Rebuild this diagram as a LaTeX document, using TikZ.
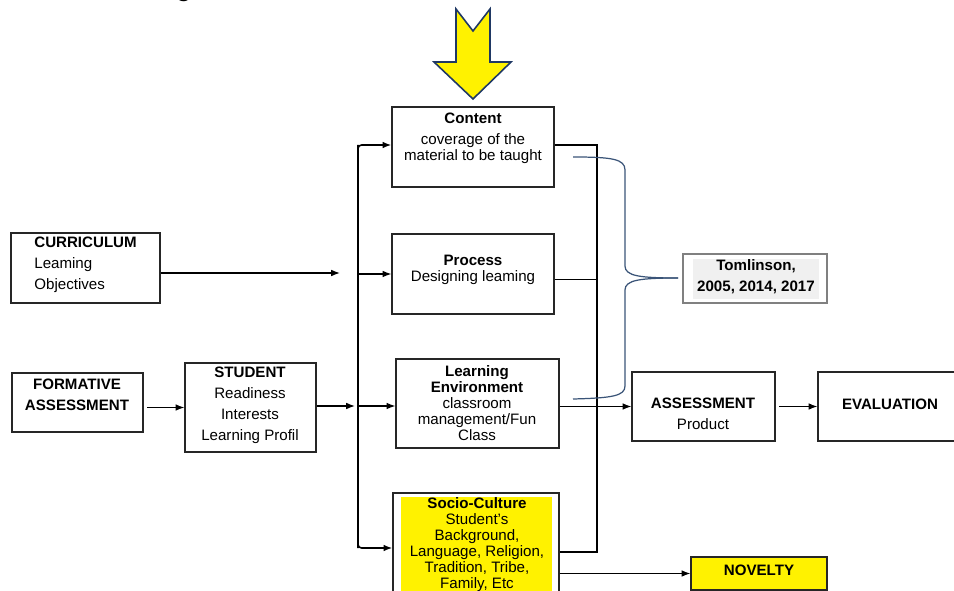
\documentclass[tikz,border=0pt]{standalone}
\usepackage{fontspec}
\setsansfont{Liberation Sans}
\usetikzlibrary{positioning,fit,arrows.meta}
\definecolor{navy}{HTML}{1F3864}
\definecolor{bracecol}{HTML}{3A5478}
\tikzset{
  box/.style={draw=black!85, line width=0.7pt, inner sep=0pt},
  txt/.style={font=\sffamily\fontsize{8.6}{9.1}\selectfont, align=center, inner sep=0pt},
  wide/.style={font=\sffamily\fontsize{8.6}{11.9}\selectfont, align=center, inner sep=0pt},
  arr/.style={-{Latex[length=5pt,width=3.8pt]}, line width=0.7pt},
  bus/.style={line width=0.9pt},
}
\begin{document}
\begin{tikzpicture}[x=0.02cm, y=-0.02cm]
        \clip (0,0) rectangle (954,591);
        % title, cut off at the top
        \node[font=\sffamily\bfseries\fontsize{14}{16}\selectfont, anchor=base, inner sep=0pt] (title) at (184,-3) {g};
        % big yellow arrow
        \draw[navy, line width=0.9pt, fill=yellow] (456,9) -- (473,31) -- (490,9) -- (490,62) -- (511,62) -- (473,99) -- (434,62) -- (456,62) -- cycle;
        % boxes
        \node[box, fit={(392,107) (554,187)}] (content) {};
        \node[box, fit={(392,234) (554,314)}] (proc) {};
        \node[box, fit={(396,359) (559,448)}] (lenv) {};
        \node[box, fit={(393,493) (559,610)}] (socio) {};
        \fill[yellow] (401,497) rectangle (552,610);
        \node[box, fit={(11,233) (160,303)}] (curr) {};
        \node[box, fit={(12,373) (143,432)}] (form) {};
        \node[box, fit={(185,363) (316,452)}] (stud) {};
        \node[box, draw=black!50, fit={(683,254) (827,303)}] (tom) {};
        \fill[black!6] (693,259) rectangle (819,299);
        \node[box, fit={(632,372) (775,441)}] (assess) {};
        \node[box, fit={(818,372) (960,441)}] (eval) {};
        \node[box, fill=yellow, fit={(691,557) (827,590)}] (novel) {};
        % texts
        \node[txt] (contentT) at (473,138) {\textbf{Content}\\[3pt]coverage of the\\material to be taught};
        \node[txt] (procT) at (473,270) {\textbf{Process}\\Designing leaming};
        \node[txt] (lenvT) at (477,403) {\textbf{Learning}\\\textbf{Environment}\\classroom\\management/Fun\\Class};
        \node[txt] (socioT) at (477,545) {\textbf{Socio-Culture}\\Student’s\\Background,\\Language, Religion,\\Tradition, Tribe,\\Family, Etc};
        \node[wide, align=left, anchor=west] (currT) at (34,265) {\textbf{CURRICULUM}\\Leaming\\Objectives};
        \node[wide] (formT) at (77,395) {\textbf{FORMATIVE}\\\textbf{ASSESSMENT}};
        \node[wide] (studT) at (250,405) {\textbf{STUDENT}\\Readiness\\Interests\\Learning Profil};
        \node[wide, font=\sffamily\bfseries\fontsize{8.6}{11.9}\selectfont] (tomT) at (756,277) {Tomlinson,\\2005, 2014, 2017};
        \node[wide] (assessT) at (703,414) {\textbf{ASSESSMENT}\\Product};
        \node[txt, font=\sffamily\bfseries\fontsize{8.6}{9.1}\selectfont] (evalT) at (890,404) {EVALUATION};
        \node[txt, font=\sffamily\bfseries\fontsize{8.6}{9.1}\selectfont] (novelT) at (759,570) {NOVELTY};
        % connectors
        \coordinate (cin) at (340,273);
        \coordinate (sin) at (355,406);
        \coordinate (bT) at (358,145);
        \coordinate (bB) at (358,548);
        \coordinate (rT) at (597,145);
        \coordinate (rB) at (597,552);
        \coordinate (pout) at (597,279);
        \draw[arr] (cin -| curr.east) -- (cin);
        \draw[arr, shorten <=2pt] (form.east |- stud.west) -- (stud.west);
        \draw[arr] (stud.east |- sin) -- (sin);
        \draw[arr, bus, rounded corners=2pt] (bB) |- (bT -| content.west);
        \draw[arr, bus, rounded corners=2pt] (bT) |- (bB -| socio.west);
        \draw[arr] (bT |- proc.west) -- (proc.west);
        \draw[arr] (bT |- sin) -- (sin -| lenv.west);
        \draw[bus] (content.east |- rT) -- (rT) -- (rB) -- (rB -| socio.east);
        \draw (pout -| proc.east) -- (pout);
        \draw[arr] (lenv.east |- assess.west) -- (assess.west);
        \draw[arr, shorten <=2pt] (assess.east) -- (eval.west);
        \draw[arr] (novel.west -| socio.east) -- (novel.west);
        % brace to Tomlinson
        \coordinate (tip) at (678,278);
        \draw[bracecol, line width=0.7pt] (573,157) .. controls (612,157) and (625,159) .. (625,170) -- (625,266) .. controls (625,276) and (640,278) .. (tip);
        \draw[bracecol, line width=0.7pt] (tip) .. controls (640,278) and (625,280) .. (625,290) -- (625,386) .. controls (625,396) and (612,398) .. (573,399);
\end{tikzpicture}
\end{document}
